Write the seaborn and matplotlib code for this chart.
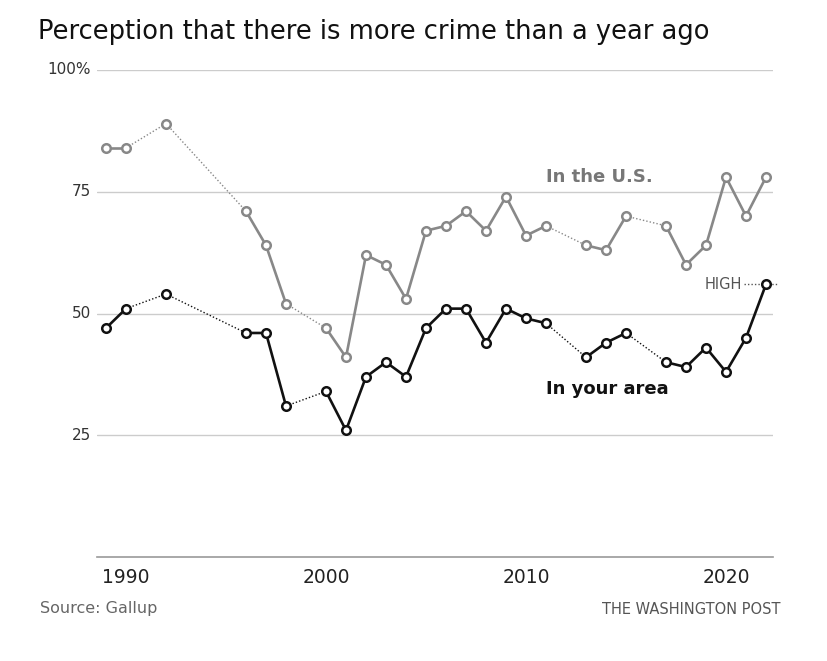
import numpy as np
import pandas as pd
import matplotlib
matplotlib.use("Agg")
import matplotlib.pyplot as plt
import seaborn as sns

# Gallup: share saying there is more crime than a year ago
years = [1989, 1990, 1992, 1996, 1997, 1998, 2000, 2001, 2002, 2003, 2004,
         2005, 2006, 2007, 2008, 2009, 2010, 2011, 2013, 2014, 2015, 2017,
         2018, 2019, 2020, 2021, 2022]
us_vals = [84, 84, 89, 71, 64, 52, 47, 41, 62, 60, 53,
           67, 68, 71, 67, 74, 66, 68, 64, 63, 70, 68,
           60, 64, 78, 70, 78]
area_vals = [47, 51, 54, 46, 46, 31, 34, 26, 37, 40, 37,
             47, 51, 51, 44, 51, 49, 48, 41, 44, 46, 40,
             39, 43, 38, 45, 56]
y_ticks = [25, 50, 75, 100]
y_labels = ['25', '50', '75', '100%']
x_ticks = [1990, 2000, 2010, 2020]

sns.set_theme(style="white")
plt.rcParams['font.family'] = ['DejaVu Sans']

df = pd.DataFrame({'year': years, 'us': us_vals, 'area': area_vals})
# runs of consecutive years get solid lines, gaps get dotted lines
df['run'] = (df['year'].diff() != 1).cumsum()

fig = plt.figure(figsize=(8.28, 6.61), dpi=100)
ax = fig.add_axes([97/828, 1 - 557/661, 676/828, 487/661])

series = [('us', '#888888'), ('area', '#111111')]
for col, color in series:
    # dotted connectors across missing years
    for i in range(1, len(df)):
        if df['year'].iloc[i] - df['year'].iloc[i-1] > 1:
            ax.plot(df['year'].iloc[i-1:i+1], df[col].iloc[i-1:i+1],
                    color=color, lw=1, ls=(0, (1, 1.5)), zorder=2)
    sns.lineplot(data=df, x='year', y=col, units='run', estimator=None,
                 color=color, lw=1.9, ax=ax, zorder=3)
    sns.scatterplot(data=df, x='year', y=col, color='white', edgecolor=color,
                    linewidth=1.8, s=38, ax=ax, zorder=4)

ax.set_xlim(1988.55, 2022.35)
ax.set_ylim(0, 100)
for t in y_ticks:
    ax.axhline(t, color='#cccccc', lw=1, zorder=1)
ax.set_yticks([])
ax.set_xticks(x_ticks)
ax.set_xticklabels([str(x) for x in x_ticks], fontsize=13.5, color='#222222')
ax.tick_params(axis='x', length=0, pad=8)
ax.set_xlabel('')
ax.set_ylabel('')
for s in ['top', 'right', 'left']:
    ax.spines[s].set_visible(False)
ax.spines['bottom'].set_color('#999999')
ax.spines['bottom'].set_linewidth(1.2)

tr = ax.get_yaxis_transform()
for t, lab in zip(y_ticks, y_labels):
    ax.text(-0.009, t, lab, transform=tr, ha='right',
            va='center', fontsize=11, color='#333333')

ax.text(2011.0, 78, 'In the U.S.', fontsize=13, fontweight='bold',
        color='#777777', va='center')
ax.text(2011.0, 34.5, 'In your area', fontsize=13, fontweight='bold',
        color='#111111', va='center')
ax.text(2020.8, 56, 'HIGH', fontsize=10.5, color='#555555', ha='right', va='center')
ax.plot([2020.9, 2022.6], [56, 56], color='#555555', lw=1, ls=(0, (1, 1.5)),
        clip_on=False, zorder=2)

fig.text(38/828, 1 - 32/661, 'Perception that there is more crime than a year ago',
         fontsize=18.5, color='#111111', va='center', ha='left')
fig.text(40/828, 1 - 609/661, 'Source: Gallup', fontsize=11.5, color='#666666',
         va='center', ha='left')
fig.text(781/828, 1 - 610/661, 'THE WASHINGTON POST', fontsize=10.5, color='#555555',
         va='center', ha='right')

fig.savefig('out.png', dpi=100, facecolor='white')
